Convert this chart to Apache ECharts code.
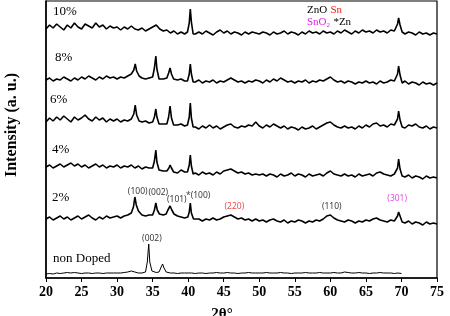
<!DOCTYPE html>
<html lang="en" style="height: 100%">
  <head>
    <meta charset="utf-8" />
  </head>
  <body style="height: 100%; margin: 0">
    <div id="container" style="width: 450px; height: 316px"></div>
    <script type="text/javascript" src="https://cdn.jsdelivr.net/npm/echarts@6/dist/echarts.min.js"></script>
    <script type="text/javascript">
      // baseline samples every 0.5 deg from 20 (intensity, arbitrary offset units)
      const STEP = 0.5;
      const xTicks = [20, 25, 30, 35, 40, 45, 50, 55, 60, 65, 70, 75];

      const base10 = [
        249, 253, 250, 254, 251, 248, 253, 250, 255, 251, 249, 254, 252, 250, 255, 251, 253, 249, 252, 250,
        251, 248, 251, 249, 252, 249, 248, 250, 247, 249, 251, 253, 249, 247, 248, 245, 247, 244, 246, 244,
        245, 243, 244, 246, 244, 247, 245, 243, 246, 248, 245, 247, 244, 246, 245, 243, 246, 244, 246, 245,
        244, 246, 245, 243, 246, 244, 245, 247, 244, 246, 245, 243, 246, 244, 247, 245, 246, 244, 247, 245,
        246, 244, 247, 245, 248, 246, 244, 247, 245, 248, 246, 247, 245, 248, 246, 247, 245, 248, 247, 246,
        247, 244, 246, 245, 243, 246, 244, 245, 243, 245, 244
      ];
      const peaks10 = [
        [[39.9, 246], [40.15, 255], [40.3, 269], [40.45, 256], [40.7, 244]],
        [[69.2, 248], [69.45, 254], [69.6, 260], [69.8, 253], [70.1, 246]]
      ];

      const base8 = [
        198, 200, 197, 199, 198, 201, 199, 197, 200, 198, 201, 199, 202, 200, 198, 201, 199, 202, 200, 201,
        199, 201, 200, 202, 204, 206, 203, 200, 199, 200, 201, 201, 201, 199, 200, 200, 200, 198, 199, 197,
        197, 196, 196, 198, 195, 197, 196, 198, 195, 197, 196, 198, 200, 198, 196, 197, 195, 197, 196, 198,
        197, 195, 198, 196, 199, 197, 200, 198, 196, 197, 195, 197, 196, 198, 195, 197, 196, 198, 197, 199,
        201, 198, 196, 197, 195, 197, 196, 194, 196, 195, 197, 195, 196, 194, 197, 195, 196, 198, 197, 197,
        195, 197, 194, 196, 195, 193, 196, 194, 195, 193, 195
      ];
      const peaks8 = [
        [[32.1, 203], [32.35, 208], [32.55, 214], [32.75, 207], [33.1, 202]],
        [[35.0, 201], [35.25, 210], [35.45, 222], [35.6, 209], [35.9, 199]],
        [[37.0, 200], [37.25, 205], [37.45, 210], [37.65, 204], [37.95, 199]],
        [[39.9, 197], [40.15, 204], [40.3, 214], [40.45, 204], [40.7, 196]],
        [[69.2, 197], [69.45, 204], [69.6, 212], [69.8, 203], [70.1, 195]]
      ];

      const base6 = [
        156, 160, 157, 161, 158, 162, 159, 156, 161, 158, 160, 163, 159, 157, 161, 158, 160, 156, 159, 157,
        159, 156, 158, 157, 159, 160, 158, 156, 157, 155, 156, 156, 156, 154, 155, 155, 155, 153, 154, 152,
        150, 152, 151, 149, 152, 150, 153, 150, 152, 149, 151, 153, 154, 151, 150, 152, 151, 153, 152, 156,
        152, 150, 153, 151, 154, 152, 150, 152, 149, 151, 150, 148, 151, 149, 150, 152, 149, 151, 153, 155,
        156, 153, 151, 150, 152, 150, 151, 149, 152, 150, 153, 151, 154, 155, 152, 153, 151, 154, 153, 153,
        151, 150, 153, 152, 154, 151, 150, 152, 149, 151, 150
      ];
      const peaks6 = [
        [[32.1, 158], [32.35, 164], [32.55, 173], [32.75, 163], [33.1, 157]],
        [[35.0, 156], [35.25, 161], [35.45, 169], [35.6, 161], [35.9, 154]],
        [[37.0, 154], [37.25, 161], [37.45, 172], [37.65, 160], [37.95, 153]],
        [[39.9, 153], [40.15, 161], [40.3, 175], [40.45, 160], [40.7, 151]],
        [[69.2, 152], [69.45, 159], [69.6, 167], [69.8, 158], [70.1, 151]]
      ];

      const base4 = [
        111, 113, 110, 112, 114, 111, 113, 115, 112, 114, 111, 113, 110, 112, 114, 111, 113, 110, 112, 111,
        113, 110, 112, 111, 113, 110, 112, 109, 111, 110, 110, 109, 108, 107, 107, 107, 107, 105, 108, 106,
        106, 105, 105, 103, 106, 104, 105, 103, 106, 104, 107, 108, 109, 107, 105, 106, 104, 105, 103, 104,
        103, 104, 102, 104, 103, 101, 104, 102, 103, 105, 102, 104, 103, 101, 104, 102, 103, 104, 102, 105,
        107, 104, 103, 102, 104, 102, 103, 101, 104, 102, 103, 104, 102, 105, 106, 104, 103, 102, 104, 104,
        102, 101, 103, 100, 102, 101, 99, 102, 100, 101, 100
      ];
      const peaks4 = [
        [[35.0, 110], [35.25, 117], [35.45, 128], [35.6, 116], [35.9, 108]],
        [[37.0, 107], [37.3, 110], [37.45, 113], [37.65, 110], [37.95, 106]],
        [[39.9, 106], [40.15, 113], [40.3, 123], [40.45, 112], [40.7, 104]],
        [[69.2, 103], [69.45, 110], [69.6, 119], [69.8, 109], [70.1, 102]]
      ];

      const base2 = [
        59, 61, 58, 60, 62, 59, 61, 58, 60, 62, 59, 61, 63, 60, 58, 61, 59, 62, 60, 61,
        62, 60, 62, 63, 65, 66, 66, 63, 62, 63, 63, 63, 64, 63, 63, 63, 64, 62, 61, 60,
        59, 59, 58, 59, 57, 59, 58, 60, 58, 59, 61, 62, 63, 61, 59, 60, 58, 59, 57, 59,
        57, 58, 56, 58, 59, 57, 56, 58, 55, 57, 56, 58, 57, 55, 57, 56, 58, 57, 59, 62,
        63, 60, 58, 57, 56, 58, 57, 55, 57, 56, 58, 57, 59, 60, 58, 57, 56, 58, 57, 57,
        56, 55, 57, 54, 56, 55, 53, 56, 54, 55, 54
      ];
      const peaks2 = [
        [[32.0, 65], [32.3, 71], [32.5, 81], [32.7, 73], [33.0, 67]],
        [[35.0, 63], [35.25, 68], [35.45, 75], [35.65, 68], [35.95, 64]],
        [[36.9, 64], [37.15, 68], [37.45, 72], [37.7, 68], [38.0, 64]],
        [[39.95, 61], [40.15, 66], [40.3, 75], [40.45, 65], [40.75, 59]],
        [[69.2, 58], [69.45, 62], [69.6, 66], [69.8, 62], [70.1, 56]]
      ];

      const base0 = [
        4, 4.5, 4, 5, 4.5, 5, 5.5, 5, 5.5, 5, 4.5, 5, 5, 4.5, 5, 5, 4.5, 5, 5, 5,
        5, 5, 5.5, 6, 7, 6, 5, 5, 5, 5, 7, 5.5, 5, 5, 5.5, 5, 5, 4.5, 5, 5,
        5, 5, 4.5, 5, 5, 4.5, 5, 5, 5.5, 5, 5, 5.5, 5, 5, 4.5, 5, 5, 5.5, 5, 5,
        5, 5, 5.5, 5, 5, 5, 5.5, 5, 5, 4.5, 5, 5, 5, 5.5, 5, 5, 5, 5.5, 5, 5,
        5, 5.5, 5, 5, 6, 5.5, 5, 5, 5.5, 5, 5, 4.5, 5, 5, 5.5, 5, 5, 5, 4.5, 5,
        4.5
      ];
      const peaks0 = [
        [[34.0, 6], [34.25, 16], [34.45, 34], [34.6, 16], [34.9, 7]],
        [[35.9, 6], [36.2, 11], [36.4, 14], [36.6, 10], [36.9, 6]]
      ];

      // trace names
      const traceNames = ["10%", "8%", "6%", "4%", "2%", "non Doped"];

      // reflection labels: text, 2θ, intensity, colour
      const annoText = ["(100)", "(002)", "(101)", "*(100)", "(220)", "(110)", "(301)", "(002)"];
      const annoX = [32.9, 35.8, 38.4, 41.4, 46.5, 60.2, 69.4, 34.9];
      const annoY = [86, 85, 78, 82, 71, 71, 79, 39];
      const annoColor = ["#000", "#000", "#000", "#000", "#e8201c", "#000", "#e020e0", "#000"];

      function buildTrace(base, peaks) {
        var pts = base.map(function (v, i) {
          return [20 + i * STEP, v];
        });
        peaks.forEach(function (p) {
          var lo = p[0][0], hi = p[p.length - 1][0];
          pts = pts.filter(function (d) {
            return d[0] < lo || d[0] > hi;
          });
          pts = pts.concat(p);
        });
        pts.sort(function (a, b) {
          return a[0] - b[0];
        });
        return pts;
      }

      var traces = [
        buildTrace(base10, peaks10),
        buildTrace(base8, peaks8),
        buildTrace(base6, peaks6),
        buildTrace(base4, peaks4),
        buildTrace(base2, peaks2),
        buildTrace(base0, peaks0)
      ];

      var dom = document.getElementById("container");
      var myChart = echarts.init(dom, null, { renderer: "canvas" });

      var serif = "'Liberation Serif', 'Times New Roman', serif";

      var series = traces.map(function (t, i) {
        return {
          name: traceNames[i],
          type: "line",
          data: t,
          showSymbol: false,
          symbol: "none",
          silent: true,
          lineStyle: { color: "#000", width: i === 5 ? 1 : 1.6 },
          z: 3
        };
      });

      series.push({
        type: "scatter",
        symbolSize: 0,
        silent: true,
        data: annoText.map(function (t, i) {
          return {
            name: t,
            value: [annoX[i], annoY[i]],
            label: { color: annoColor[i] }
          };
        }),
        label: {
          show: true,
          position: "inside",
          formatter: "{b}",
          fontFamily: "'Noto Sans', sans-serif",
          fontSize: 8.5,
          color: "#000"
        },
        z: 5
      });

      var option = {
        animation: false,
        backgroundColor: "#fff",
        grid: {
          left: 46,
          right: 13,
          top: 1,
          bottom: 38,
          show: true,
          borderColor: "#000",
          borderWidth: 1.2
        },
        xAxis: {
          type: "value",
          min: 20,
          max: 75,
          interval: 5,
          axisLine: { show: true, lineStyle: { color: "#000", width: 1.5 } },
          axisTick: { show: true, inside: false, length: 4, lineStyle: { color: "#000", width: 1 } },
          axisLabel: {
            color: "#000",
            fontFamily: serif,
            fontWeight: "bold",
            fontSize: 14,
            margin: 7,
            customValues: xTicks
          },
          splitLine: { show: false }
        },
        yAxis: {
          type: "value",
          min: 0,
          max: 277,
          axisLine: { show: true, lineStyle: { color: "#000", width: 1.5 } },
          axisTick: { show: false },
          axisLabel: { show: false },
          splitLine: { show: false }
        },
        graphic: [
          {
            type: "text",
            x: 12,
            y: 125,
            rotation: Math.PI / 2,
            style: {
              text: "Intensity (a. u.)",
              font: "bold 16px " + serif,
              fill: "#000",
              align: "center",
              verticalAlign: "middle"
            }
          },
          {
            type: "text",
            x: 222,
            y: 314,
            style: {
              text: "2θ°",
              font: "bold 15px " + serif,
              fill: "#000",
              align: "center",
              verticalAlign: "middle"
            }
          },
          { type: "text", x: 53, y: 12, style: { text: traceNames[0], font: "13px " + serif, fill: "#000", verticalAlign: "middle" } },
          { type: "text", x: 55, y: 58, style: { text: traceNames[1], font: "13px " + serif, fill: "#000", verticalAlign: "middle" } },
          { type: "text", x: 50, y: 100, style: { text: traceNames[2], font: "13px " + serif, fill: "#000", verticalAlign: "middle" } },
          { type: "text", x: 52, y: 150, style: { text: traceNames[3], font: "13px " + serif, fill: "#000", verticalAlign: "middle" } },
          { type: "text", x: 52, y: 198, style: { text: traceNames[4], font: "13px " + serif, fill: "#000", verticalAlign: "middle" } },
          { type: "text", x: 53, y: 259, style: { text: traceNames[5], font: "13px " + serif, fill: "#000", verticalAlign: "middle" } },
          {
            type: "text",
            x: 307,
            y: 10,
            style: {
              text: "{k|ZnO} {r|Sn}",
              verticalAlign: "middle",
              rich: {
                k: { font: "11px " + serif, fill: "#000", color: "#000" },
                r: { font: "11px " + serif, fill: "#e8201c", color: "#e8201c" }
              }
            }
          },
          {
            type: "text",
            x: 307,
            y: 22,
            style: {
              text: "{m|SnO}{s|2} {k|*Zn}",
              verticalAlign: "middle",
              rich: {
                m: { font: "11px " + serif, fill: "#e020e0", color: "#e020e0" },
                s: { font: "7px " + serif, fill: "#e020e0", color: "#e020e0", padding: [6, 0, 0, 0] },
                k: { font: "11px " + serif, fill: "#000", color: "#000" }
              }
            }
          }
        ],
        series: series
      };

      myChart.setOption(option);
      window.addEventListener("resize", myChart.resize);
    </script>
  </body>
</html>
